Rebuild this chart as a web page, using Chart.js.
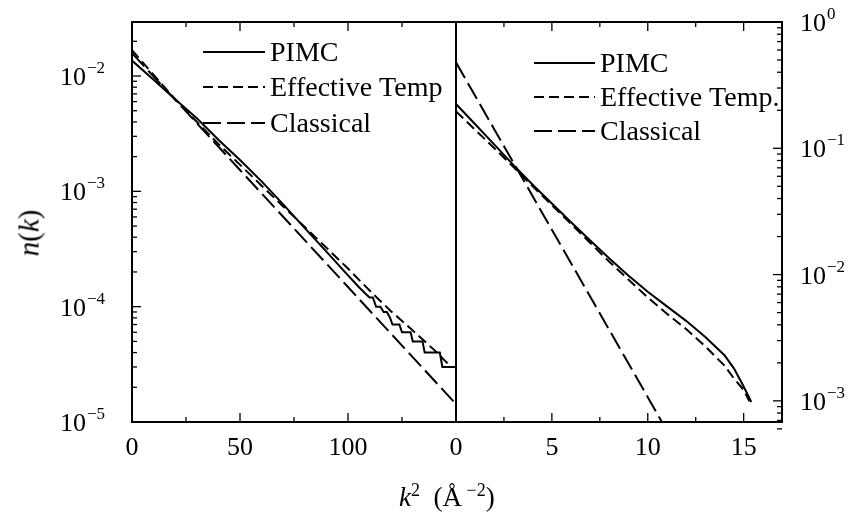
<!DOCTYPE html>
<html>
<head>
<meta charset="utf-8">
<script src="https://cdn.jsdelivr.net/npm/chart.js@4"></script>
<style>
  html, body { margin: 0; padding: 0; background: #fff; }
  #wrap { position: relative; width: 849px; height: 525px; font-family: "Liberation Serif", serif; color: #000; }
  #wrap canvas { position: absolute; left: 0; top: 0; }
  #ytitle { position: absolute; left: 29px; top: 233px; transform: translate(-50%, -50%) rotate(-90deg); font-size: 29px; white-space: nowrap; }
  #xtitle { position: absolute; left: 399px; top: 484px; font-size: 27px; line-height: 27px; white-space: nowrap; }
  #xtitle sup { font-size: 18px; line-height: 0; }
</style>
</head>
<body>
<div id="wrap">
  <canvas id="left-panel" width="849" height="525"></canvas>
  <canvas id="right-panel" width="849" height="525"></canvas>
  <div id="ytitle"><i>n</i>(<i>k</i>)</div>
  <div id="xtitle"><i>k</i><sup>2</sup>&nbsp;&nbsp;(Å<sup>&nbsp;−2</sup>)</div>
</div>
<script>
// left panel, k^2 up to 150
const pimcLeftK2 = [0, 10, 20, 30, 40, 50, 60, 70, 80, 90, 100, 105, 108, 110, 111.5, 113, 115, 116.5, 118, 119.5, 120.6, 123.8, 125, 129, 130, 134.5, 135.5, 142.5, 143.7, 150]
const pimcLeftN = [0.0136, 0.0093, 0.0063, 0.0043, 0.0028, 0.00187, 0.00122, 0.00077, 0.00048, 0.0003, 0.000187, 0.000148, 0.00013, 0.00012, 0.00012, 0.0001, 0.0001, 0.00009, 0.00009, 0.00008, 0.00007, 0.00007, 0.00006, 0.00006, 0.00005, 0.00005, 0.00004, 0.00004, 0.00003, 0.00003]
const effLeftK2 = [0, 10, 20, 30, 40, 50, 60, 70, 80, 90, 100, 110, 120, 130, 140, 147]
const effLeftN = [0.0168, 0.0102, 0.0063, 0.004, 0.00257, 0.0017, 0.00112, 0.00074, 0.00049, 0.000324, 0.000214, 0.000138, 0.000091, 0.000062, 0.000042, 0.000031]
const clsLeftK2 = [0, 25, 50, 75, 100, 125, 149]
const clsLeftN = [0.0158, 0.00493, 0.00153, 0.000476, 0.000148, 0.000046, 0.000015]

// right panel, k^2 up to 17
const pimcRightK2 = [0, 1, 2, 3, 4, 5, 6, 7, 8, 9, 10, 11, 12, 13, 14, 14.5, 15, 15.4]
const pimcRightN = [0.224, 0.155, 0.107, 0.0735, 0.0515, 0.0365, 0.026, 0.0186, 0.0134, 0.0098, 0.0073, 0.0056, 0.0043, 0.0032, 0.0023, 0.0018, 0.0013, 0.00098]
const effRightK2 = [0, 1, 2, 3, 4, 5, 6, 7, 8, 9, 10, 11, 12, 13, 14, 14.5, 15, 15.3]
const effRightN = [0.196, 0.14, 0.1, 0.071, 0.05, 0.0355, 0.0252, 0.0178, 0.0126, 0.0091, 0.0066, 0.0049, 0.0037, 0.0027, 0.0019, 0.0015, 0.00122, 0.00099]
const clsRightK2 = [0, 2, 4, 6, 8, 10, 11]
const clsRightN = [0.479, 0.141, 0.0417, 0.0123, 0.00363, 0.00107, 0.00058]

// ticks
const leftXTicks = [0, 50, 100]
const leftXMinor = [25, 75, 125]
const rightXTicks = [0, 5, 10, 15]
const rightXMinor = [2.5, 7.5, 12.5]
const leftYExps = [-5, -4, -3, -2]
const rightYExps = [-3, -2, -1, 0]

const FONT = '"Liberation Serif", serif'

const toPts = (xs, ys) => xs.map((x, i) => ({ x, y: ys[i] }))

const makeSets = (pimc, eff, cls, effLabel) => [
  { label: 'PIMC', data: pimc, borderColor: '#000', borderWidth: 2, pointRadius: 0, tension: 0 },
  { label: effLabel, data: eff, borderColor: '#000', borderWidth: 2, borderDash: [10, 5], pointRadius: 0, tension: 0 },
  { label: 'Classical', data: cls, borderColor: '#000', borderWidth: 2, borderDash: [18, 6], pointRadius: 0, tension: 0 },
]

const paperAxes = {
  id: 'paperAxes',
  afterDatasetsDraw(chart, args, opts) {
    const { ctx, chartArea: a } = chart
    const x = chart.scales.x, y = chart.scales.y
    const line = (x1, y1, x2, y2) => { ctx.beginPath(); ctx.moveTo(x1, y1); ctx.lineTo(x2, y2); ctx.stroke() }
    ctx.save()
    ctx.strokeStyle = '#000'
    ctx.fillStyle = '#000'
    ctx.lineWidth = 2
    ctx.strokeRect(a.left, a.top, a.right - a.left, a.bottom - a.top)

    ctx.lineWidth = 1.3
    opts.xMajor.forEach(v => {
      const px = x.getPixelForValue(v)
      line(px, a.bottom, px, a.bottom - 9)
      line(px, a.top, px, a.top + 9)
    })
    opts.xMinor.forEach(v => {
      const px = x.getPixelForValue(v)
      line(px, a.bottom, px, a.bottom - 5)
      line(px, a.top, px, a.top + 5)
    })

    const side = opts.ySide === 'left' ? a.left : a.right
    const dir = opts.ySide === 'left' ? 1 : -1
    opts.yExps.concat([opts.yExps[0] - 1]).forEach(e => {
      for (let m = 1; m <= 9; m++) {
        const v = m * Math.pow(10, e)
        if (v < opts.yTickMin || v > y.max * 1.0001) continue
        const py = y.getPixelForValue(v)
        line(side, py, side + dir * (m === 1 ? 9 : 5), py)
      }
    })

    ctx.textBaseline = 'alphabetic'
    ctx.textAlign = 'center'
    ctx.font = '26px ' + FONT
    opts.xMajor.forEach(v => ctx.fillText(String(v), x.getPixelForValue(v), a.bottom + 33))

    ctx.textAlign = 'left'
    opts.yExps.forEach(e => {
      const py = y.getPixelForValue(Math.pow(10, e))
      ctx.font = '26px ' + FONT
      ctx.fillText('10', opts.labelX, py + 9)
      const w = ctx.measureText('10').width
      ctx.font = '17px ' + FONT
      ctx.fillText(e < 0 ? '\u2212' + (-e) : String(e), opts.labelX + w + 1, py - 3)
    })
    ctx.restore()
  }
}

const paperLegend = {
  id: 'paperLegend',
  afterDatasetsDraw(chart, args, opts) {
    const { ctx } = chart
    ctx.save()
    chart.data.datasets.forEach((ds, i) => {
      const yy = opts.rows[i]
      ctx.strokeStyle = '#000'
      ctx.lineWidth = ds.borderWidth
      ctx.setLineDash(ds.borderDash || [])
      ctx.beginPath()
      ctx.moveTo(opts.x0, yy)
      ctx.lineTo(opts.x1, yy)
      ctx.stroke()
      ctx.setLineDash([])
      ctx.fillStyle = '#000'
      ctx.font = '28px ' + FONT
      ctx.textAlign = 'left'
      ctx.textBaseline = 'alphabetic'
      ctx.fillText(ds.label, opts.x1 + 5, yy + 9)
    })
    ctx.restore()
  }
}

const panel = (id, sets, xMax, yMin, yMax, padL, padR, axes, legend) => new Chart(document.getElementById(id), {
  type: 'line',
  data: { datasets: sets },
  options: {
    responsive: false,
    animation: false,
    layout: { padding: { left: padL, right: padR, top: 22, bottom: 103 } },
    scales: {
      x: { type: 'linear', min: 0, max: xMax, display: false },
      y: { type: 'logarithmic', min: yMin, max: yMax, display: false },
    },
    plugins: {
      legend: { display: false },
      tooltip: { enabled: false },
      paperAxes: axes,
      paperLegend: legend,
    },
  },
  plugins: [paperAxes, paperLegend],
})

panel('left-panel',
  makeSets(toPts(pimcLeftK2, pimcLeftN), toPts(effLeftK2, effLeftN), toPts(clsLeftK2, clsLeftN), 'Effective Temp'),
  150, 1e-5, 0.0294, 132, 849 - 456,
  { xMajor: leftXTicks, xMinor: leftXMinor, yExps: leftYExps, ySide: 'left', labelX: 60, yTickMin: 1e-5 },
  { x0: 203, x1: 265, rows: [52, 87, 123] })

panel('right-panel',
  makeSets(toPts(pimcRightK2, pimcRightN), toPts(effRightK2, effRightN), toPts(clsRightK2, clsRightN), 'Effective Temp.'),
  17, 6.8e-4, 1, 456, 849 - 782,
  { xMajor: rightXTicks, xMinor: rightXMinor, yExps: rightYExps, ySide: 'right', labelX: 800, yTickMin: 6e-4 },
  { x0: 534, x1: 595, rows: [63, 97, 131] })
</script>
</body>
</html>
